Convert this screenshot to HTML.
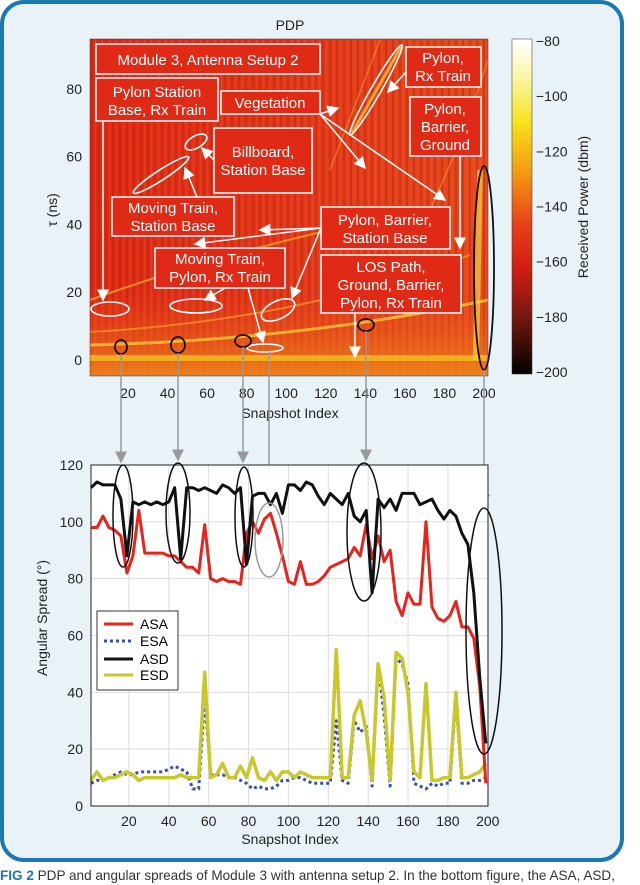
<!DOCTYPE html>
<html><head><meta charset="utf-8"><style>
html,body{margin:0;padding:0;background:#fff;}
svg{display:block;font-family:"Liberation Sans",sans-serif;}
</style></head><body>
<svg id="fig" width="640" height="885" viewBox="0 0 640 885" xmlns="http://www.w3.org/2000/svg">
<defs>
<linearGradient id="cbar" x1="0" y1="0" x2="0" y2="1">
<stop offset="0" stop-color="#ffffff"/><stop offset="0.12" stop-color="#fbf5a0"/><stop offset="0.25" stop-color="#f7e21a"/><stop offset="0.4" stop-color="#f39a12"/><stop offset="0.55" stop-color="#e8421a"/><stop offset="0.68" stop-color="#d21e12"/><stop offset="0.82" stop-color="#7a1a10"/><stop offset="1" stop-color="#000"/>
</linearGradient>
<linearGradient id="hbg" x1="0" y1="0" x2="1" y2="0">
<stop offset="0" stop-color="#de2a14"/><stop offset="0.5" stop-color="#e2381a"/><stop offset="1" stop-color="#e54a1c"/>
</linearGradient>
<linearGradient id="hbot" x1="0" y1="0" x2="0" y2="1">
<stop offset="0" stop-color="#e8501c" stop-opacity="0"/><stop offset="1" stop-color="#f08a1a" stop-opacity="0.9"/>
</linearGradient>
<pattern id="streaks" width="7" height="10" patternUnits="userSpaceOnUse">
<rect x="0" y="0" width="2" height="10" fill="#b81810" opacity="0.35"/><rect x="4" y="0" width="1" height="10" fill="#f06a2a" opacity="0.3"/>
</pattern>
<marker id="wa" markerWidth="8" markerHeight="8" refX="7" refY="4" orient="auto"><path d="M0,0 L8,4 L0,8 z" fill="#fff"/></marker>
<marker id="ga" markerWidth="8" markerHeight="8" refX="7" refY="4" orient="auto"><path d="M0,0 L8,4 L0,8 z" fill="#999"/></marker>
</defs>

<rect x="2" y="2" width="620" height="858" rx="22" fill="#e9f3f7" stroke="#1b78b0" stroke-width="4"/>

<!-- TOP: PDP -->
<text x="290" y="30" font-size="14" text-anchor="middle" fill="#222">PDP</text>
<g>
<rect x="90" y="39" width="398" height="337" fill="url(#hbg)"/>
<rect x="90" y="39" width="398" height="337" fill="url(#streaks)"/>
<rect x="90" y="290" width="398" height="86" fill="url(#hbot)"/>
<rect x="90" y="355" width="398" height="6" fill="#f7b421" opacity="0.9"/>
<path d="M90,345 Q300,340 488,300" stroke="#f8c83a" stroke-width="3" fill="none" opacity="0.8"/>
<path d="M90,332 Q300,320 470,255" stroke="#f59a2a" stroke-width="2" fill="none" opacity="0.7"/>
<path d="M90,300 Q200,260 330,230" stroke="#f7b42a" stroke-width="2" fill="none" opacity="0.7"/>
<path d="M352,133 L401,47" stroke="#f7c03a" stroke-width="3" fill="none" opacity="0.8"/>
<path d="M330,170 L380,40" stroke="#f39a2a" stroke-width="1.5" fill="none" opacity="0.6"/>
<path d="M420,230 Q460,150 488,60" stroke="#f39a2a" stroke-width="1.5" fill="none" opacity="0.6"/>
<path d="M476,360 L480,170" stroke="#f7d040" stroke-width="6" fill="none" opacity="0.7"/>
</g>
<rect x="90" y="39" width="398" height="337" fill="none" stroke="#333" stroke-width="0.5"/>

<g font-size="15" fill="#fff" text-anchor="middle">
<g fill="#e02a16" stroke="#fff" stroke-width="1.5">
<rect x="96" y="44" width="224" height="30"/><rect x="96" y="78" width="122" height="43"/><rect x="221" y="91" width="99" height="23"/>
<rect x="214" y="128" width="98" height="65"/><rect x="112" y="197" width="122" height="39"/><rect x="155" y="248" width="130" height="40"/>
<rect x="321" y="207" width="129" height="42"/><rect x="321" y="255" width="140" height="58"/><rect x="406" y="47" width="75" height="40"/><rect x="410" y="97" width="71" height="59"/>
</g>
<text x="208" y="65">Module 3, Antenna Setup 2</text>
<text x="157" y="97">Pylon Station</text><text x="157" y="115">Base, Rx Train</text>
<text x="270" y="108">Vegetation</text>
<text x="263" y="157">Billboard,</text><text x="263" y="175">Station Base</text>
<text x="173" y="213">Moving Train,</text><text x="173" y="231">Station Base</text>
<text x="220" y="264">Moving Train,</text><text x="220" y="282">Pylon, Rx Train</text>
<text x="385" y="225">Pylon, Barrier,</text><text x="385" y="243">Station Base</text>
<text x="391" y="272">LOS Path,</text><text x="391" y="290">Ground, Barrier,</text><text x="391" y="308">Pylon, Rx Train</text>
<text x="443" y="63">Pylon,</text><text x="443" y="81">Rx Train</text>
<text x="445" y="114">Pylon,</text><text x="445" y="132">Barrier,</text><text x="445" y="150">Ground</text>
<g stroke="#fff" stroke-width="1.5" fill="none" marker-end="url(#wa)">
<line x1="103" y1="121" x2="103" y2="300"/><line x1="320" y1="114" x2="338" y2="108"/><line x1="320" y1="114" x2="365" y2="168"/><line x1="320" y1="114" x2="445" y2="200"/>
<line x1="214" y1="160" x2="202" y2="148"/><line x1="197" y1="197" x2="185" y2="168"/><line x1="321" y1="228" x2="260" y2="230"/><line x1="321" y1="228" x2="195" y2="244"/>
<line x1="321" y1="228" x2="292" y2="298"/><line x1="225" y1="288" x2="205" y2="300"/><line x1="248" y1="288" x2="263" y2="342"/><line x1="460" y1="156" x2="460" y2="248"/>
<line x1="355" y1="313" x2="355" y2="357"/><line x1="406" y1="72" x2="388" y2="92"/>
</g>
<g stroke="#fff" stroke-width="1.6" fill="none">
<ellipse cx="110" cy="309" rx="19" ry="7"/><ellipse cx="196" cy="306" rx="26" ry="7"/><ellipse cx="278" cy="310" rx="18" ry="9" transform="rotate(-25 278 310)"/>
<ellipse cx="265" cy="348" rx="18" ry="4"/><ellipse cx="196" cy="142" rx="12" ry="6" transform="rotate(-30 196 142)"/><ellipse cx="161" cy="175" rx="33" ry="5" transform="rotate(-33 161 175)"/>
<ellipse cx="376" cy="90" rx="52" ry="5" transform="rotate(-60 376 90)"/>
</g>
</g>
<g stroke="#111" stroke-width="1.8" fill="none">
<ellipse cx="121" cy="347" rx="6" ry="7"/><ellipse cx="178" cy="345" rx="7" ry="8"/><ellipse cx="243" cy="341" rx="8" ry="6"/><ellipse cx="366" cy="325" rx="8" ry="6"/><ellipse cx="484" cy="268" rx="10" ry="102"/>
</g>

<g font-size="14" fill="#222">
<g text-anchor="end" id="tyt"></g>
<g text-anchor="middle" id="txt"></g>
<text x="290" y="418" text-anchor="middle" font-size="14">Snapshot Index</text>
<text transform="translate(57 210) rotate(-90)" text-anchor="middle" font-size="14">τ (ns)</text>
</g>
<rect x="512" y="39" width="20" height="335" fill="url(#cbar)" stroke="#333" stroke-width="0.5"/>
<g font-size="14" fill="#222" id="cbt"></g>
<text transform="translate(588 207) rotate(-90)" text-anchor="middle" font-size="14" fill="#222">Received Power (dbm)</text>

<!-- connector lines -->
<g stroke="#999" stroke-width="1.5" fill="none" marker-end="url(#ga)">
<line x1="121" y1="354" x2="121" y2="462"/><line x1="178" y1="353" x2="178" y2="460"/><line x1="243" y1="347" x2="243" y2="462"/>
<line x1="269" y1="352" x2="269" y2="495"/><line x1="366" y1="331" x2="366" y2="460"/><line x1="484" y1="370" x2="484" y2="505"/>
</g>

<!-- BOTTOM: angular spread -->
<g id="bottom">
<rect x="91" y="465" width="397" height="341" fill="#fff"/>
<g id="grid" stroke="#ddd" stroke-width="1"></g>
<g id="series"></g>
<rect x="91" y="465" width="397" height="341" fill="none" stroke="#222" stroke-width="1"/>
<g id="byt" font-size="14" fill="#222" text-anchor="end"></g>
<g id="bxt" font-size="14" fill="#222" text-anchor="middle"></g>
<text x="290" y="844" text-anchor="middle" font-size="14" fill="#222">Snapshot Index</text>
<text transform="translate(47 618) rotate(-90)" text-anchor="middle" font-size="14" fill="#222">Angular Spread (°)</text>
<g stroke="#111" stroke-width="1.5" fill="none">
<ellipse cx="123" cy="516" rx="10" ry="51"/><ellipse cx="178" cy="513" rx="12" ry="50"/><ellipse cx="244" cy="517" rx="9" ry="50"/><ellipse cx="364" cy="532" rx="17" ry="69"/><ellipse cx="484" cy="631" rx="18" ry="123"/>
</g>
<ellipse cx="269" cy="540" rx="14" ry="37" stroke="#999" stroke-width="1.5" fill="none"/>
<g>
<rect x="97" y="611" width="81" height="79" fill="#fff" stroke="#333" stroke-width="1"/>
<line x1="104" y1="624" x2="133" y2="624" stroke="#e8231c" stroke-width="3"/><text x="140" y="629" font-size="14">ASA</text>
<line x1="104" y1="641" x2="133" y2="641" stroke="#3b4eb0" stroke-width="3" stroke-dasharray="3,3"/><text x="140" y="646" font-size="14">ESA</text>
<line x1="104" y1="659" x2="133" y2="659" stroke="#111" stroke-width="3"/><text x="140" y="664" font-size="14">ASD</text>
<line x1="104" y1="675" x2="133" y2="675" stroke="#c8c82a" stroke-width="3"/><text x="140" y="680" font-size="14">ESD</text>
</g>
</g>

<text x="0" y="880" font-size="14" fill="#333" textLength="615" lengthAdjust="spacingAndGlyphs"><tspan fill="#1b78b0" font-weight="bold">FIG 2</tspan> PDP and angular spreads of Module 3 with antenna setup 2. In the bottom figure, the ASA, ASD,</text>
</svg>
<script>
const snapshots=[1,4,7,10,13,16,19,22,25,28,31,34,37,40,43,46,49,52,55,58,61,64,67,70,73,76,79,82,85,88,91,94,97,100,103,106,109,112,115,118,121,124,127,130,133,136,139,142,145,148,151,154,157,160,163,166,169,172,175,178,181,184,187,190,193,196,199];
const asa=[98,98,102,98,97,95,82,88,104,89,89,89,89,88,88,86,84,84,82,99,80,79,80,79,79,78,96,100,96,101,103,96,88,79,78,86,78,78,79,81,84,85,86,87,91,88,99,87,95,86,90,72,67,75,71,71,100,70,66,65,67,72,63,63,59,42,8];
const asd=[112,114,113,113,113,108,88,107,106,107,106,107,106,107,112,87,112,112,111,112,111,110,113,112,110,112,85,109,110,110,106,110,103,113,113,111,114,113,109,106,110,108,106,110,102,100,104,75,108,105,108,104,110,110,110,106,107,108,104,101,104,102,96,92,75,45,22];
const esd=[9,12,9,10,10,11,12,11,9,10,10,10,10,10,10,11,10,10,10,47,10,11,15,10,10,14,10,17,10,9,12,9,12,12,10,12,11,10,10,10,10,55,10,10,32,37,26,9,50,38,9,54,52,40,12,10,43,9,9,10,10,40,10,10,11,12,15];
const esa=[8,9,9,10,11,12,11,11,12,12,12,12,12,13,14,13,12,6,6,38,11,11,11,10,10,9,8,6,7,6,6,7,9,9,10,10,9,8,8,8,8,30,9,8,30,26,28,7,50,32,7,52,50,43,8,7,6,8,7,8,8,38,8,8,9,9,10];
const spreadTicks=[0,20,40,60,80,100,120];
const snapTicks=[20,40,60,80,100,120,140,160,180,200];
const tauTicks=[0,20,40,60,80];
const powerTicks=[-80,-100,-120,-140,-160,-180,-200];

const NS="http://www.w3.org/2000/svg";
const bx=v=>89+1.994*v, by=a=>806-2.842*a;
const tx=v=>88.4+1.978*v, ty=t=>360-3.39*t;
const cy=p=>41+(-80-p)/120*331;
function mk(tag,attrs,parent,txt){const e=document.createElementNS(NS,tag);for(const k in attrs)e.setAttribute(k,attrs[k]);if(txt!==undefined)e.textContent=txt;parent.appendChild(e);return e;}
const grid=document.getElementById('grid'), byt=document.getElementById('byt'), bxt=document.getElementById('bxt');
spreadTicks.forEach(v=>{
  const l=mk('line',{x1:91,x2:488,y1:by(v),y2:by(v)},grid);
  
  
  const t=mk('text',{x:83,y:by(v)+5},byt,String(v));
  
  
});
snapTicks.forEach(v=>{
  const l=mk('line',{x1:bx(v),x2:bx(v),y1:465,y2:806},grid);
  
  
  const t=mk('text',{x:bx(v),y:826},bxt,String(v));
  
  
});
const txt=document.getElementById('txt'), tyt=document.getElementById('tyt'), cbt=document.getElementById('cbt');
snapTicks.forEach(v=>{
  const t=mk('text',{x:tx(v),y:398},txt,String(v));
  
  
});
tauTicks.forEach(v=>{
  const t=mk('text',{x:82,y:ty(v)+5},tyt,String(v));
  
  
});
powerTicks.forEach(v=>{
  const t=mk('text',{x:536,y:cy(v)+5},cbt,'−'+Math.abs(v));
  
  
});
const series=document.getElementById('series');
function line(vals,color,w,dash,name){
  const d=vals.map((v,i)=>(i?'L':'M')+bx(snapshots[i]).toFixed(1)+','+by(v).toFixed(1)).join(' ');
  const p=mk('path',{d:d,stroke:color,'stroke-width':w,fill:'none','stroke-linejoin':'round'},series);
  if(dash)p.setAttribute('stroke-dasharray',dash);
  
  
}
line(esa,'#3b4eb0',3,'3,3','series-esa');
line(esd,'#c8c82a',3.5,null,'series-esd');
line(asa,'#e8231c',3,null,'series-asa');
line(asd,'#111',3,null,'series-asd');
</script>
</body></html>
